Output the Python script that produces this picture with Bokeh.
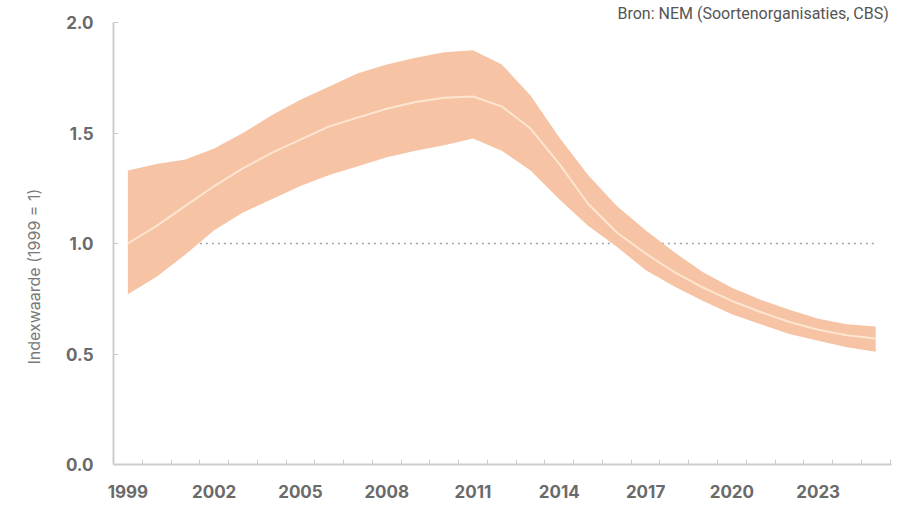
from bokeh.plotting import figure
from bokeh.models import FixedTicker, PrintfTickFormatter, Range1d, Title
from bokeh.embed import file_html
from bokeh.resources import INLINE

# ---- data ----
years = list(range(1999, 2026))
index_mid = [1.00, 1.08, 1.17, 1.26, 1.34, 1.41, 1.47, 1.53, 1.57, 1.61, 1.64, 1.66, 1.665,
             1.62, 1.52, 1.36, 1.18, 1.05, 0.955, 0.87, 0.80, 0.74, 0.69, 0.645, 0.61, 0.585, 0.57]
index_upper = [1.33, 1.36, 1.38, 1.43, 1.50, 1.58, 1.65, 1.71, 1.77, 1.81, 1.84, 1.865, 1.875,
               1.81, 1.67, 1.48, 1.31, 1.17, 1.06, 0.96, 0.87, 0.80, 0.745, 0.70, 0.66, 0.635, 0.625]
index_lower = [0.77, 0.85, 0.95, 1.06, 1.14, 1.20, 1.26, 1.31, 1.35, 1.39, 1.42, 1.445, 1.475,
               1.42, 1.33, 1.20, 1.08, 0.985, 0.88, 0.805, 0.74, 0.68, 0.635, 0.59, 0.56, 0.53, 0.51]
x_labels = [1999, 2002, 2005, 2008, 2011, 2014, 2017, 2020, 2023]
y_ticks = [0.0, 0.5, 1.0, 1.5, 2.0]
reference_level = 1.0
y_title = "Indexwaarde (1999 = 1)"
source_text = "Bron: NEM (Soortenorganisaties, CBS)"

X0, X1 = 1998.5, 2025.55
Y0, Y1 = 0.0, 2.0
FW, FH = 778, 442

p = figure(frame_width=FW, frame_height=FH, output_backend="svg", toolbar_location=None,
           x_range=Range1d(X0, X1), y_range=Range1d(Y0, Y1),
           min_border_left=113, min_border_right=13, min_border_top=22, min_border_bottom=42)
p.outline_line_color = None
p.xgrid.visible = False
p.ygrid.visible = False
p.background_fill_color = "white"
p.border_fill_color = "white"

# source line at the top right
p.title.text = source_text
p.title.align = "left"
p.title.offset = 504
p.title.standoff = 0
p.title.text_font = "Roboto"
p.title.text_font_size = "16px"
p.title.text_font_style = "normal"
p.title.text_color = "#555555"

# reference line at 1.0
p.line(x=[years[0], years[-1]], y=[reference_level, reference_level],
       line_color="#9aa5b1", line_width=1.6, line_dash="2 4")

# uncertainty band and trend line
p.varea(x=years, y1=index_lower, y2=index_upper, fill_color="#f6c3a5", fill_alpha=1.0)
p.line(x=years, y=index_mid, line_color="#fde6cf", line_width=2)

# axes
axis_col = "#cdcdcd"
tick_font = "Inter"
xa = p.xaxis[0]
xa.ticker = FixedTicker(ticks=x_labels, minor_ticks=[y + 0.5 for y in years])
xa.axis_line_color = axis_col
xa.axis_line_width = 2
xa.major_tick_in = 0
xa.major_tick_out = 0
xa.minor_tick_in = 5
xa.minor_tick_out = 0
xa.minor_tick_line_color = axis_col
xa.major_label_text_font = tick_font
xa.major_label_text_font_size = "17px"
xa.major_label_text_font_style = "bold"
xa.major_label_text_color = "#6a6a6a"
xa.major_label_standoff = 20

ya = p.yaxis[0]
ya.ticker = FixedTicker(ticks=y_ticks)
ya.formatter = PrintfTickFormatter(format="%.1f")
ya.axis_line_color = axis_col
ya.axis_line_width = 2
ya.major_tick_in = 5
ya.major_tick_out = 0
ya.major_tick_line_color = axis_col
ya.minor_tick_in = 0
ya.minor_tick_out = 0
ya.major_label_text_font = tick_font
ya.major_label_text_font_size = "17px"
ya.major_label_text_font_style = "bold"
ya.major_label_text_color = "#6a6a6a"
ya.major_label_standoff = 20

# y-axis title, in the left panel, shifted down like in the reference
p.add_layout(Title(text=y_title, align="left", offset=100, standoff=38,
                   text_font="Inter", text_font_size="16px", text_font_style="normal",
                   text_color="#7a7a7a"), "left")

open("out.html", "w").write(file_html(p, INLINE))
